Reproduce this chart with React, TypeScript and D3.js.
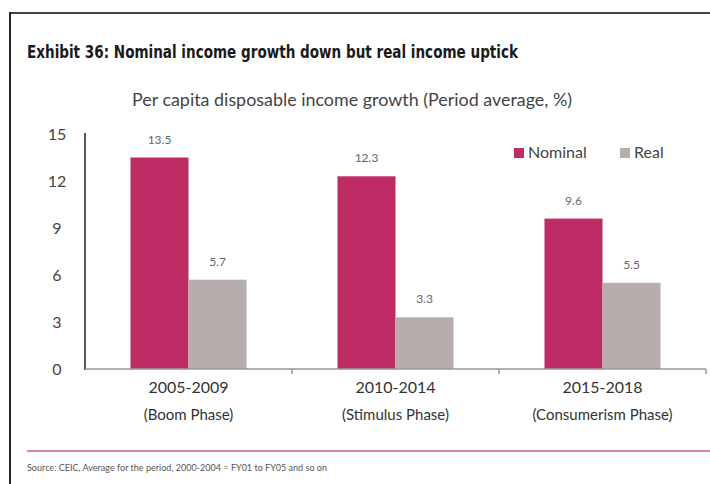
import React from "react";
import * as d3 from "d3";

const categories = ["2005-2009", "2010-2014", "2015-2018"];
const phases = ["(Boom Phase)", "(Stimulus Phase)", "(Consumerism Phase)"];
const seriesNames = ["Nominal", "Real"];
const nominal = [13.5, 12.3, 9.6];
const real = [5.7, 3.3, 5.5];
const yTicks = [0, 3, 6, 9, 12, 15];

const colors: Record<string, string> = { Nominal: "#BE2C66", Real: "#B7ADAD" };

export default function App() {
  const W = 710, H = 484;
  const x0 = 85, x1 = 706, yTop = 134, yBot = 369;
  const x = d3.scaleBand<string>().domain(categories).range([x0, x1]).paddingInner(0).paddingOuter(0);
  const xi = d3.scaleBand<string>().domain(seriesNames).range([0, x.bandwidth()]).paddingInner(0).paddingOuter(0.784);
  const y = d3.scaleLinear().domain([0, 15]).range([yBot, yTop]);
  const values: Record<string, number[]> = { Nominal: nominal, Real: real };
  const font = "Lato, 'Open Sans', sans-serif";

  return (
    <svg width={W} height={H} style={{ position: "absolute", left: 0, top: 0, background: "#fff" }}>
      <rect x={0} y={0} width={W} height={H} fill="#fff" />
      {/* frame */}
      <line x1={10} y1={13} x2={W} y2={13} stroke="#444" strokeWidth={2} />
      <line x1={10} y1={12} x2={10} y2={H} stroke="#222" strokeWidth={2} />
      {/* title */}
      <text x={27} y={58} fontFamily="'Liberation Sans Narrow', 'DejaVu Sans Condensed', sans-serif" fontWeight="bold" fontSize={17} fill="#1a1a1a" textLength={491} lengthAdjust="spacingAndGlyphs">
        Exhibit 36: Nominal income growth down but real income uptick
      </text>
      <text x={352} y={106} textAnchor="middle" fontFamily={font} fontSize={17} fill="#444" textLength={440} lengthAdjust="spacingAndGlyphs">
        Per capita disposable income growth (Period average, %)
      </text>
      {/* y tick labels */}
      {yTicks.map((t) => (
        <text key={t} x={57} y={y(t) + 6} textAnchor="middle" fontFamily={font} fontSize={16} fill="#444">
          {t}
        </text>
      ))}
      {/* bars */}
      {categories.map((c, i) =>
        seriesNames.map((s) => {
          const v = values[s][i];
          const bx = (x(c) as number) + (xi(s) as number);
          return (
            <g key={c + s}>
              <rect x={bx} y={y(v)} width={xi.bandwidth()} height={yBot - y(v)} fill={colors[s]} />
              <text x={bx + xi.bandwidth() / 2} y={y(v) - 14} textAnchor="middle" fontFamily={font} fontSize={12} fill="#666">
                {v.toFixed(1)}
              </text>
            </g>
          );
        })
      )}
      {/* axes */}
      <line x1={x0} y1={yTop - 1} x2={x0} y2={yBot + 1} stroke="#222" strokeWidth={1.5} />
      <line x1={x0} y1={yBot} x2={x1} y2={yBot} stroke="#999" strokeWidth={1.5} />
      {categories.map((c) => (
        <line key={c} x1={(x(c) as number) + x.bandwidth()} y1={yBot} x2={(x(c) as number) + x.bandwidth()} y2={yBot + 5} stroke="#999" strokeWidth={1.5} />
      ))}
      {/* x labels */}
      {categories.map((c, i) => (
        <g key={c}>
          <text x={(x(c) as number) + x.bandwidth() / 2} y={393} textAnchor="middle" fontFamily={font} fontSize={16} fill="#333">
            {c}
          </text>
          <text x={(x(c) as number) + x.bandwidth() / 2} y={420} textAnchor="middle" fontFamily={font} fontSize={15} fill="#333">
            {phases[i]}
          </text>
        </g>
      ))}
      {/* legend */}
      {seriesNames.map((s, i) => {
        const lx = [514, 620][i];
        return (
          <g key={s}>
            <rect x={lx} y={148} width={10} height={10} fill={colors[s]} />
            <text x={lx + 14} y={158} fontFamily={font} fontSize={16} fill="#444">
              {s}
            </text>
          </g>
        );
      })}
      {/* footer */}
      <line x1={27} y1={451} x2={W} y2={451} stroke="#D9859F" strokeWidth={2} />
      <text x={27} y={471} fontFamily={font} fontSize={10} fill="#555" textLength={300} lengthAdjust="spacingAndGlyphs">
        Source: CEIC, Average for the period, 2000-2004 = FY01 to FY05 and so on
      </text>
    </svg>
  );
}
